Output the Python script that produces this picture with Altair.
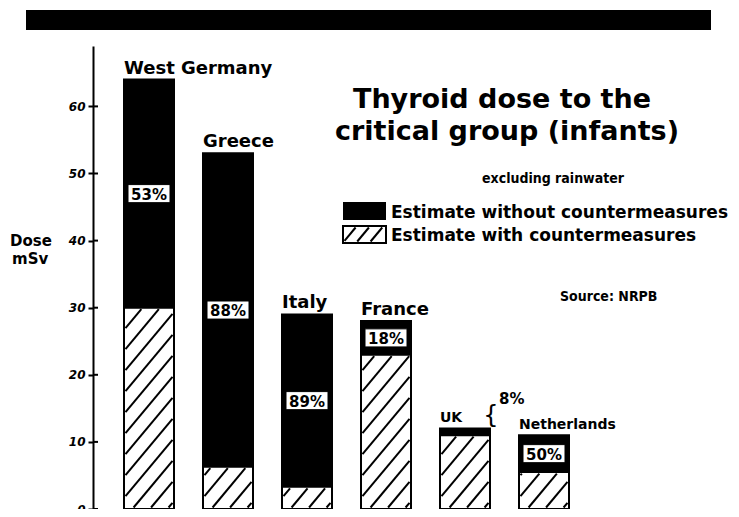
import altair as alt
import pandas as pd

# ---------------- data ----------------
countries = ["West Germany", "Greece", "Italy", "France", "UK", "Netherlands"]
dose_without = [64, 53, 29, 28, 12, 11]      # mSv, estimate without countermeasures
dose_with = [30, 6.3, 3.3, 23, 11, 5.5]      # mSv, estimate with countermeasures
reduction_pct = [53, 88, 89, 18, 8, 50]      # % reduction printed on the bars
y_ticks = [0, 10, 20, 30, 40, 50, 60]

# ---------------- layout ----------------
W, H = 638, 463
PAD = {"left": 85, "top": 38, "right": 0, "bottom": 0}
STEP_PX = 79.0      # distance between bar centres
FIRST_PX = 56.0     # first bar centre from the y axis
BAR_PX = 50.0       # bar width
X_MIN = -FIRST_PX / STEP_PX
X_MAX = X_MIN + W / STEP_PX
Y_MAX = 69
KX = W / (X_MAX - X_MIN)
KY = H / Y_MAX
HALF = BAR_PX / 2 / KX
FONT = "DejaVu Sans"

xscale = alt.Scale(domain=[X_MIN, X_MAX], nice=False, zero=False)
yscale = alt.Scale(domain=[0, Y_MAX], nice=False, zero=True)
yaxis = alt.Axis(values=y_ticks, title=None, grid=False, domainColor="black",
                 domainWidth=2, tickColor="black", tickWidth=2, tickSize=5,
                 labelFont=FONT, labelFontStyle="italic", labelFontWeight="bold",
                 labelFontSize=12, labelColor="black", labelPadding=3)

# long table of bars: the black (without) bar first, hatched (with) bar on top
rows = []
for series, vals in (("without", dose_without), ("with", dose_with)):
    for i, (c, v) in enumerate(zip(countries, vals)):
        rows.append({"country": c, "series": series, "xl": i - HALF, "xr": i + HALF,
                     "y0": 0, "value": v})
bars_df = pd.DataFrame(rows)

info = pd.DataFrame({
    "country": countries,
    "xc": list(range(len(countries))),
    "xl": [i - HALF for i in range(len(countries))],
    "total": dose_without,
    "withc": dose_with,
    "pct": [f"{p}%" for p in reduction_pct],
})
info["ymid"] = (info["total"] + info["withc"]) / 2

ticks_df = pd.DataFrame({"tick": y_ticks})


def hatch(left_x, bottom_y, w_px, h_px, slope, gap, phase, inset=1.5):
    segs = []
    c = -slope * w_px + phase
    while c < h_px:
        lo = max(inset, (inset - c) / slope)
        hi = min(w_px - inset, (h_px - inset - c) / slope)
        if hi - lo > 0.8:
            segs.append({"x": left_x + lo / KX, "y": bottom_y + (slope * lo + c) / KY,
                         "x2": left_x + hi / KX, "y2": bottom_y + (slope * hi + c) / KY})
        c += gap
    return segs


hatch_rows = []
for i, hw in enumerate(dose_with):
    hatch_rows += hatch(i - HALF, 0, BAR_PX, hw * KY, 1.2, 21.0, 8.0)
# legend swatch (pixel box 250..293 x 180..197 converted to data units)
hatch_rows += hatch(X_MIN + 250 / KX, (H - 197) / KY, 43, 17, 1.2, 16.0, 4.0)
hatch_df = pd.DataFrame(hatch_rows)

dummy = pd.DataFrame({"d": [0]})

# ---------------- layers ----------------
bars = alt.Chart(bars_df).mark_rect(stroke="black", strokeWidth=2).encode(
    x=alt.X("xl:Q", scale=xscale, axis=None),
    x2="xr:Q",
    y=alt.Y("y0:Q", scale=yscale, axis=yaxis),
    y2="value:Q",
    fill=alt.Fill("series:N", scale=alt.Scale(domain=["without", "with"],
                                              range=["black", "white"]), legend=None),
)

# tick marks crossing to the inner side of the axis
inner_ticks = alt.Chart(ticks_df).mark_rule(color="black", strokeWidth=2).encode(
    x=alt.value(0), x2=alt.value(5),
    y=alt.Y("tick:Q", scale=yscale, axis=yaxis),
)

hatch_layer = alt.Chart(hatch_df).mark_rule(color="black", strokeWidth=2).encode(
    x=alt.X("x:Q", scale=xscale, axis=None),
    y=alt.Y("y:Q", scale=yscale, axis=yaxis),
    x2="x2:Q",
    y2="y2:Q",
)

inside = info[info["country"] != "UK"]
pct_box = alt.Chart(inside).mark_point(
    shape="M-1,-0.43H1V0.43H-1Z", size=1764, filled=True, color="white",
    stroke="black", strokeWidth=1, opacity=1,
).encode(
    x=alt.X("xc:Q", scale=xscale, axis=None),
    y=alt.Y("ymid:Q", scale=yscale, axis=yaxis),
)
pct_text = alt.Chart(inside).mark_text(
    font=FONT, fontSize=15, fontWeight="bold", color="black", baseline="middle",
    align="center", dy=1
).encode(
    x=alt.X("xc:Q", scale=xscale, axis=None),
    y=alt.Y("ymid:Q", scale=yscale, axis=yaxis),
    text="pct:N",
)

names = alt.Chart(info).mark_text(
    font=FONT, fontWeight="bold", color="black", align="left", baseline="alphabetic", dy=-6
).encode(
    x=alt.X("xl:Q", scale=xscale, axis=None),
    y=alt.Y("total:Q", scale=yscale, axis=yaxis),
    text="country:N",
    size=alt.condition(alt.FieldOneOfPredicate(field="country", oneOf=["UK", "Netherlands"]),
                       alt.value(14), alt.value(18)),
)

uk = info[info["country"] == "UK"]
uk_pct = alt.Chart(uk).mark_text(
    font=FONT, fontSize=15, fontWeight="bold", color="black", align="left",
    baseline="alphabetic", dx=34, dy=-24
).encode(
    x=alt.X("xc:Q", scale=xscale, axis=None),
    y=alt.Y("total:Q", scale=yscale, axis=yaxis),
    text="pct:N",
)
uk_brace = alt.Chart(uk).mark_text(
    text="{", font=FONT, fontSize=24, fontWeight="normal", color="black", align="center",
    baseline="middle", dx=26, dy=-12
).encode(
    x=alt.X("xc:Q", scale=xscale, axis=None),
    y=alt.Y("total:Q", scale=yscale, axis=yaxis),
)


def label(txt, x, y, size, align="left", font=FONT, weight="bold"):
    return alt.Chart(dummy).mark_text(
        text=txt, align=align, baseline="alphabetic", font=font, fontSize=size,
        fontWeight=weight, color="black"
    ).encode(x=alt.value(x), y=alt.value(y))


def box(x, x2, y, y2, fill, sw=0):
    return alt.Chart(dummy).mark_rect(fill=fill, stroke="black", strokeWidth=sw).encode(
        x=alt.value(x), x2=alt.value(x2), y=alt.value(y), y2=alt.value(y2))


top_band = box(-67, 618, -36, -16, "black")
leg_black = box(250, 293, 156, 174, "black")
leg_hatch = box(250, 293, 180, 197, "white", 2)

texts = [
    label("Thyroid dose to the", 409, 62, 27, align="center"),
    label("critical group (infants)", 414, 94, 27, align="center"),
    label("excluding rainwater", 389, 137, 14, font="DejaVu Sans Condensed"),
    label("Estimate without countermeasures", 298, 172, 17),
    label("Estimate with countermeasures", 298, 195, 17),
    label("Source: NRPB", 467, 255, 14, font="DejaVu Sans Condensed"),
    label("Dose", -83, 200, 15),
    label("mSv", -81, 218, 15),
]

chart = alt.layer(
    top_band, leg_black, leg_hatch, bars, inner_ticks, hatch_layer, pct_box, pct_text,
    names, uk_pct, uk_brace, *texts
).properties(
    width=W, height=H,
    autosize=alt.AutoSizeParams(type="none"),
    padding=PAD,
    background="white",
).configure_view(stroke=None)

chart.save("out.html", embed_options={"renderer": "svg", "actions": False})
